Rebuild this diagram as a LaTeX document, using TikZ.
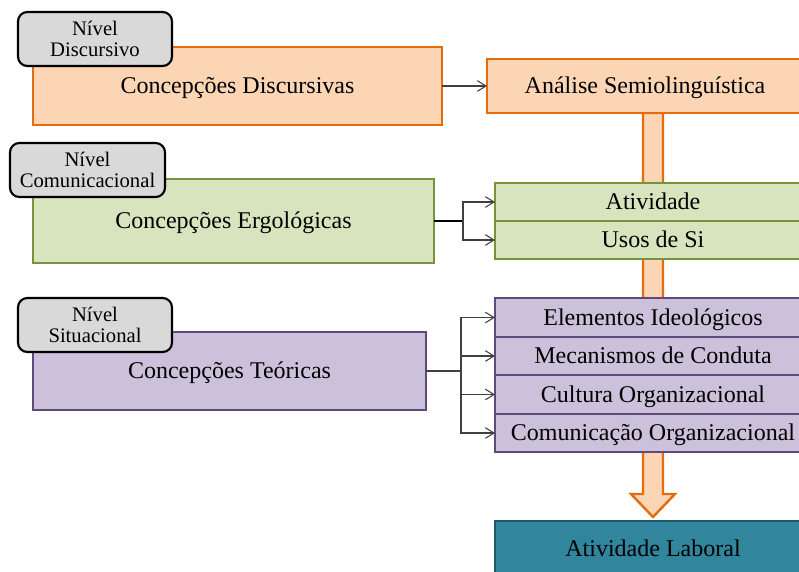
\documentclass[tikz,border=0pt]{standalone}
\usepackage{fontspec}
\setmainfont{Liberation Serif}
\usetikzlibrary{arrows.meta,calc,backgrounds}
\definecolor{orF}{HTML}{FCD5B5}
\definecolor{orD}{HTML}{E46C0A}
\definecolor{grF}{HTML}{D7E4BD}
\definecolor{grD}{HTML}{77933C}
\definecolor{puF}{HTML}{CCC1DA}
\definecolor{puD}{HTML}{604A7B}
\definecolor{teF}{HTML}{31859C}
\definecolor{teD}{HTML}{215968}
\definecolor{lbF}{HTML}{D9D9D9}
\definecolor{lnC}{HTML}{404040}
\newdimen\pxu
\pxu=0.75pt
\begin{document}
\begin{tikzpicture}[x=0.75pt,y=-0.75pt,
  box/.style={draw,line width=1.8pt,inner sep=0pt,outer sep=0pt,align=center,
    font=\fontsize{18}{21}\selectfont,text height=11.9pt,text depth=0pt},
  orbox/.style={box,fill=orF,draw=orD},
  grbox/.style={box,fill=grF,draw=grD},
  pubox/.style={box,fill=puF,draw=puD},
  tebox/.style={box,fill=teF,draw=teD},
  lvl/.style={draw=black,fill=lbF,line width=1.6pt,rounded corners=7pt,inner sep=0pt,
    outer sep=0pt,align=center,minimum width=154\pxu,minimum height=54\pxu,
    font=\fontsize{15.5}{16}\selectfont},
  conn/.style={draw=lnC,line width=0.8pt,-{Straight Barb[length=6.5pt,width=8pt]}},
  bigarrow/.style={draw=orD,fill=orF,line width=1.8pt,line join=miter}
]
\useasboundingbox (0,0) rectangle (799,571);

% main boxes
\node[orbox,minimum width=409\pxu,minimum height=78\pxu] (cd) at (237.5,86) {Concepções Discursivas};
\node[orbox,minimum width=316\pxu,minimum height=54\pxu] (as) at (645,86) {Análise Semiolinguística};

\node[grbox,minimum width=401\pxu,minimum height=84\pxu] (ce) at (233.5,221) {Concepções Ergológicas};
\node[grbox,minimum width=316\pxu,minimum height=38\pxu] (at) at (653,202) {Atividade};
\node[grbox,minimum width=316\pxu,minimum height=38\pxu] (us) at (653,240) {Usos de Si};

\node[pubox,minimum width=393\pxu,minimum height=78\pxu] (ct) at (229.5,371) {Concepções Teóricas};
\node[pubox,minimum width=316\pxu,minimum height=38.5\pxu] (e1) at (653,317.5) {Elementos Ideológicos};
\node[pubox,minimum width=316\pxu,minimum height=38.5\pxu] (e2) at (653,356) {Mecanismos de Conduta};
\node[pubox,minimum width=316\pxu,minimum height=38.5\pxu] (e3) at (653,394.5) {Cultura Organizacional};
\node[pubox,minimum width=316\pxu,minimum height=38.5\pxu] (e4) at (653,433) {Comunicação Organizacional};

\node[tebox,minimum width=316\pxu,minimum height=56\pxu] (al) at (653,549) {Atividade Laboral};

% level labels
\node[lvl] (n1) at (95,39) {Nível\\Discursivo};
\node[lvl,minimum width=155\pxu] (n2) at (87.5,170) {Nível\\Comunicacional};
\node[lvl] (n3) at (95,325) {Nível\\Situacional};

% big arrow behind boxes
\coordinate (ab) at (as.south -| al.north);
\begin{scope}[on background layer]
\draw[bigarrow] ($(ab)+(-10,0)$) -- ($(al.north)+(-10,-27)$) -- ($(al.north)+(-22,-27)$)
  -- ($(al.north)+(0,-4)$) -- ($(al.north)+(22,-27)$) -- ($(al.north)+(10,-27)$)
  -- ($(ab)+(10,0)$) -- cycle;
\end{scope}

% connectors
\draw[conn] (cd.east) -- (as.west);

\coordinate (j1) at ($(ce.east)+(29,0)$);
\draw[black,line width=1.3pt] (ce.east) -- (j1);
\draw[conn] (j1) |- (at.west);
\draw[conn] (j1) |- (us.west);

\coordinate (j2) at ($(ct.east)+(35,0)$);
\draw[lnC,line width=0.8pt] (ct.east) -- (j2);
\draw[conn] (j2) |- (e1.west);
\draw[conn] (j2) |- (e2.west);
\draw[conn] (j2) |- (e3.west);
\draw[conn] (j2) |- (e4.west);
\end{tikzpicture}
\end{document}
